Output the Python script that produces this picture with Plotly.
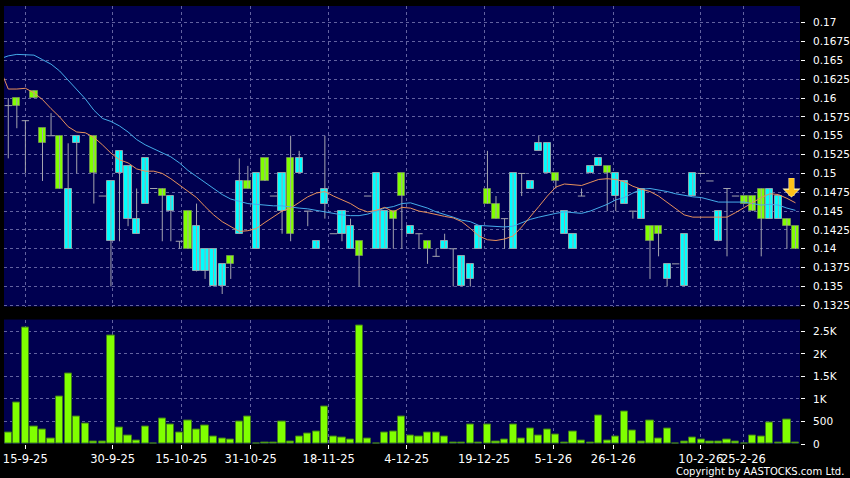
import plotly.graph_objects as go

# ---------------- data ----------------
opens = [0.159, 0.160, 0.157, 0.161, 0.156, 0.155, 0.155, 0.140, 0.154, None,
         0.155, 0.147, 0.141, 0.150, 0.144, 0.142, 0.146, 0.148, 0.148, 0.145,
         0.141, 0.145, 0.137, 0.137, 0.135, 0.135, 0.139, 0.142, 0.149, 0.140,
         0.152, 0.147, 0.145, 0.152, 0.150, 0.145, 0.140, 0.146, 0.142, 0.142,
         0.140, 0.141, 0.147, 0.140, 0.140, 0.145, 0.150, 0.142, 0.142, 0.141,
         0.139, 0.140, 0.140, 0.135, 0.136, 0.140, 0.148, 0.146, 0.144, 0.140,
         0.150, 0.148, 0.153, 0.150, 0.150, 0.142, 0.140, 0.147, 0.150, 0.151,
         0.151, 0.147, 0.146, 0.145, 0.144, 0.143, 0.143, 0.136, 0.138, 0.135,
         0.147, 0.150, 0.149, 0.141, 0.148, 0.147, 0.147, 0.147, 0.148, 0.144,
         0.144, 0.144, 0.143]
highs = [0.160, 0.160, 0.157, 0.161, 0.156, 0.158, 0.155, 0.154, 0.155, None,
         0.155, 0.147, 0.149, 0.153, 0.151, 0.148, 0.152, 0.148, 0.148, 0.147,
         0.141, 0.145, 0.146, 0.140, 0.140, 0.138, 0.139, 0.152, 0.151, 0.150,
         0.152, 0.147, 0.150, 0.155, 0.153, 0.145, 0.141, 0.155, 0.142, 0.145,
         0.144, 0.141, 0.147, 0.150, 0.145, 0.145, 0.150, 0.143, 0.142, 0.141,
         0.140, 0.142, 0.140, 0.139, 0.138, 0.143, 0.153, 0.147, 0.144, 0.150,
         0.150, 0.149, 0.155, 0.154, 0.150, 0.145, 0.142, 0.148, 0.151, 0.152,
         0.151, 0.150, 0.149, 0.145, 0.148, 0.143, 0.143, 0.138, 0.138, 0.142,
         0.150, 0.150, 0.149, 0.145, 0.148, 0.147, 0.147, 0.147, 0.148, 0.148,
         0.147, 0.144, 0.143]
lows = [0.152, 0.156, 0.150, 0.160, 0.149, 0.155, 0.148, 0.140, 0.150, None,
        0.146, 0.147, 0.135, 0.141, 0.143, 0.142, 0.146, 0.148, 0.141, 0.141,
        0.140, 0.140, 0.137, 0.136, 0.135, 0.134, 0.136, 0.142, 0.148, 0.140,
        0.149, 0.147, 0.142, 0.141, 0.150, 0.143, 0.140, 0.144, 0.142, 0.141,
        0.140, 0.135, 0.147, 0.140, 0.140, 0.140, 0.140, 0.142, 0.140, 0.138,
        0.139, 0.140, 0.135, 0.135, 0.135, 0.140, 0.146, 0.144, 0.140, 0.140,
        0.147, 0.148, 0.153, 0.150, 0.148, 0.142, 0.140, 0.147, 0.150, 0.151,
        0.145, 0.145, 0.146, 0.144, 0.144, 0.136, 0.139, 0.135, 0.138, 0.135,
        0.147, 0.150, 0.149, 0.141, 0.139, 0.147, 0.146, 0.145, 0.139, 0.144,
        0.144, 0.140, 0.140]
closes = [0.159, 0.159, 0.157, 0.160, 0.154, 0.155, 0.148, 0.148, 0.155, None,
          0.150, 0.147, 0.149, 0.153, 0.151, 0.144, 0.152, 0.148, 0.147, 0.147,
          0.141, 0.140, 0.143, 0.140, 0.140, 0.138, 0.138, 0.149, 0.148, 0.150,
          0.149, 0.147, 0.150, 0.142, 0.152, 0.145, 0.141, 0.148, 0.142, 0.145,
          0.143, 0.139, 0.147, 0.150, 0.145, 0.144, 0.147, 0.143, 0.142, 0.140,
          0.139, 0.141, 0.140, 0.139, 0.138, 0.143, 0.146, 0.144, 0.144, 0.150,
          0.150, 0.149, 0.154, 0.154, 0.149, 0.145, 0.142, 0.147, 0.151, 0.152,
          0.150, 0.150, 0.149, 0.145, 0.148, 0.141, 0.142, 0.138, 0.138, 0.142,
          0.150, 0.150, 0.149, 0.145, 0.148, 0.147, 0.146, 0.145, 0.144, 0.148,
          0.147, 0.143, 0.140]
volumes = [246, 918, 2589, 395, 328, 112, 1052, 1559, 612, 455,
           45, 52, 2402, 358, 194, 82, 380, 0, 560, 440,
           261, 515, 321, 410, 164, 112, 90, 500, 612, 5,
           30, 22, 492, 52, 157, 231, 283, 828, 172, 149,
           104, 2641, 119, 0, 246, 276, 612, 179, 172, 254,
           254, 172, 37, 37, 433, 37, 433, 60, 90, 440,
           112, 336, 194, 328, 209, 30, 269, 82, 37, 634,
           82, 157, 716, 306, 60, 515, 112, 336, 5, 45,
           134, 97, 45, 45, 90, 52, 0, 179, 157, 470,
           22, 545, 22]
# moving averages, first value belongs to the session before the first bar
ma_short = [0.1640, 0.1612, 0.1612, 0.1613, 0.1607, 0.1598, 0.1586, 0.1575, 0.1562, 0.1555,
            0.1554, 0.1548, 0.1538, 0.1527, 0.1518, 0.1514, 0.1506, 0.1503, 0.1503, 0.1500,
            0.1493, 0.1485, 0.1476, 0.1468, 0.1456, 0.1445, 0.1436, 0.1429, 0.1423, 0.1424,
            0.1427, 0.1435, 0.1443, 0.1450, 0.1454, 0.1462, 0.1469, 0.1474, 0.1476, 0.1470,
            0.1465, 0.1460, 0.1453, 0.1449, 0.1451, 0.1455, 0.1449, 0.1455, 0.1454, 0.1450,
            0.1448, 0.1445, 0.1443, 0.1441, 0.1436, 0.1427, 0.1417, 0.1412, 0.1411, 0.1413,
            0.1417, 0.1429, 0.1442, 0.1456, 0.1470, 0.1482, 0.1486, 0.1485, 0.1484, 0.1488,
            0.1492, 0.1493, 0.1492, 0.1489, 0.1483, 0.1479, 0.1476, 0.1470, 0.1462, 0.1453,
            0.1445, 0.1442, 0.1442, 0.1442, 0.1442, 0.1442, 0.1448, 0.1455, 0.1461, 0.1468,
            0.1473, 0.1472, 0.1467, 0.1461]
ma_long = [0.1652, 0.1656, 0.1658, 0.1658, 0.1657, 0.1651, 0.1645, 0.1636, 0.1624, 0.1611,
           0.1599, 0.1584, 0.1573, 0.1569, 0.1563, 0.1555, 0.1545, 0.1538, 0.1533, 0.1527,
           0.1522, 0.1514, 0.1504, 0.1496, 0.1488, 0.1480, 0.1472, 0.1466, 0.1463, 0.1460,
           0.1459, 0.1458, 0.1457, 0.1457, 0.1455, 0.1454, 0.1453, 0.1451, 0.1448, 0.1446,
           0.1445, 0.1444, 0.1444, 0.1446, 0.1450, 0.1454, 0.1456, 0.1460, 0.1461, 0.1458,
           0.1454, 0.1449, 0.1446, 0.1442, 0.1438, 0.1436, 0.1431, 0.1430, 0.1430, 0.1429,
           0.1430, 0.1435, 0.1439, 0.1442, 0.1445, 0.1447, 0.1449, 0.1448, 0.1447, 0.1450,
           0.1454, 0.1459, 0.1465, 0.1468, 0.1474, 0.1479, 0.1480, 0.1478, 0.1476, 0.1473,
           0.1471, 0.1469, 0.1468, 0.1465, 0.1462, 0.1462, 0.1462, 0.1462, 0.1460, 0.1458,
           0.1459, 0.1458, 0.1454, 0.1451]
date_labels = ["15-9-25", "30-9-25", "15-10-25", "31-10-25", "18-11-25", "4-12-25",
               "19-12-25", "5-1-26", "26-1-26", "10-2-26", "25-2-26"]
date_label_bars = [1.99, 12.2, 20.22, 28.33, 37.45, 46.56, 55.6, 63.7, 70.71, 80.93, 85.91]
price_ticks = [0.1325, 0.135, 0.1375, 0.14, 0.1425, 0.145, 0.1475, 0.15, 0.1525,
               0.155, 0.1575, 0.16, 0.1625, 0.165, 0.1675, 0.17]
price_tick_text = ["0.1325", "0.135", "0.1375", "0.14", "0.1425", "0.145", "0.1475", "0.15",
                   "0.1525", "0.155", "0.1575", "0.16", "0.1625", "0.165", "0.1675", "0.17"]
vol_ticks = [0, 500, 1000, 1500, 2000, 2500]
vol_tick_text = ["0", "500", "1K", "1.5K", "2K", "2.5K"]

# ---------------- styling ----------------
BG = "#000050"
GRID = "#6262a0"
CYAN = "#00FFFF"
CYAN_EDGE = "#8aa6ae"
GREEN = "#80FF00"
GREEN_EDGE = "#6c8f4c"
WICK = "#a4a4ae"
VOL_FILL = "#80FF00"
VOL_EDGE = "#3f7a1c"
ORANGE = "#E8915C"
BLUE = "#45ACEA"
FONT = "DejaVu Sans"
BODY_W = 0.84
TICK_HALF = 0.43

n = len(closes)
bars = list(range(n))

fig = go.Figure()

# wicks
wx, wy = [], []
for i in bars:
    if opens[i] is None:
        continue
    if highs[i] > lows[i]:
        wx += [i, i, None]
        wy += [lows[i], highs[i], None]
fig.add_trace(go.Scatter(x=wx, y=wy, mode="lines", line=dict(color=WICK, width=1),
                         hoverinfo="skip", xaxis="x", yaxis="y"))

# bodies
ux, ub, uh, dx, db, dh = [], [], [], [], [], []
tx, ty = [], []
for i in bars:
    o, c = opens[i], closes[i]
    if o is None:
        continue
    if round(c - o, 6) > 0:
        ux.append(i); ub.append(o); uh.append(c - o)
    elif round(c - o, 6) < 0:
        dx.append(i); db.append(c); dh.append(o - c)
    else:
        tx += [i - TICK_HALF, i + TICK_HALF, None]
        ty += [o, o, None]

fig.add_trace(go.Bar(x=ux, y=uh, base=ub, width=BODY_W, xaxis="x", yaxis="y",
                     marker=dict(color=CYAN, line=dict(color=CYAN_EDGE, width=1))))
fig.add_trace(go.Bar(x=dx, y=dh, base=db, width=BODY_W, xaxis="x", yaxis="y",
                     marker=dict(color=GREEN, line=dict(color=GREEN_EDGE, width=1))))
fig.add_trace(go.Scatter(x=tx, y=ty, mode="lines", line=dict(color=WICK, width=1),
                         xaxis="x", yaxis="y"))

# moving averages
ma_x = list(range(-1, n))
fig.add_trace(go.Scatter(x=ma_x, y=ma_long, mode="lines", line=dict(color=BLUE, width=1),
                         xaxis="x", yaxis="y"))
fig.add_trace(go.Scatter(x=ma_x, y=ma_short, mode="lines", line=dict(color=ORANGE, width=1),
                         xaxis="x", yaxis="y"))

# volume
fig.add_trace(go.Bar(x=bars, y=volumes, width=BODY_W, xaxis="x2", yaxis="y2",
                     marker=dict(color=VOL_FILL, line=dict(color=VOL_EDGE, width=1))))

axis_common = dict(showline=False, zeroline=False, gridcolor=GRID, griddash="3px,3px",
                   gridwidth=1, automargin=False)

fig.update_layout(
    width=850, height=478,
    margin=dict(l=4, r=50, t=6, b=34, autoexpand=False),
    paper_bgcolor="#000000", plot_bgcolor=BG,
    barmode="overlay", showlegend=False, bargap=0,
    xaxis=dict(domain=[0, 1], anchor="y", range=[-0.5, 92.53], tickvals=date_label_bars,
               showticklabels=False, ticks="", showgrid=True, **axis_common),
    yaxis=dict(domain=[0.3139, 1], anchor="x", side="right", range=[0.13234, 0.17222],
               tickvals=price_ticks, ticktext=price_tick_text, ticks="outside", ticklen=4,
               tickcolor="#ffffff", ticklabelstandoff=6,
               tickfont=dict(family=FONT, size=10.5, color="#ffffff"), showgrid=True,
               **axis_common),
    xaxis2=dict(domain=[0, 1], anchor="y2", matches="x", range=[-0.5, 92.53],
                tickvals=date_label_bars, ticktext=date_labels, ticks="outside", ticklen=4,
                tickangle=0,
                tickcolor="#ffffff", tickfont=dict(family=FONT, size=11.5, color="#ffffff"),
                showgrid=True, **axis_common),
    yaxis2=dict(domain=[0, 0.2842], anchor="x2", side="right", range=[0, 2764],
                tickvals=vol_ticks, ticktext=vol_tick_text, ticks="outside", ticklen=4,
                tickcolor="#ffffff", ticklabelstandoff=6,
                tickfont=dict(family=FONT, size=10.5, color="#ffffff"), showgrid=True,
                **axis_common),
)

# signal arrow above the latest bars
fig.add_annotation(x=n - 1, y=0.1468, xref="x", yref="y", text="", showarrow=True,
                   ax=0, ay=-21, arrowhead=1, arrowsize=0.5, arrowwidth=6,
                   arrowcolor="#FFF3B0", xshift=-4)
fig.add_annotation(x=n - 1, y=0.1469, xref="x", yref="y", text="", showarrow=True,
                   ax=0, ay=-20, arrowhead=1, arrowsize=0.47, arrowwidth=5,
                   arrowcolor="#FFC21A", xshift=-4)

fig.add_annotation(text="Copyright by AASTOCKS.com Ltd.", xref="paper", yref="paper",
                   x=1.058, y=-0.063, xanchor="right", yanchor="middle", showarrow=False,
                   font=dict(family=FONT, size=10, color="#ffffff"))

fig.write_html("out.html",
               config={"displayModeBar": False},
               post_script="document.body.style.margin='0px';"
                           "document.body.style.background='#000000';")
